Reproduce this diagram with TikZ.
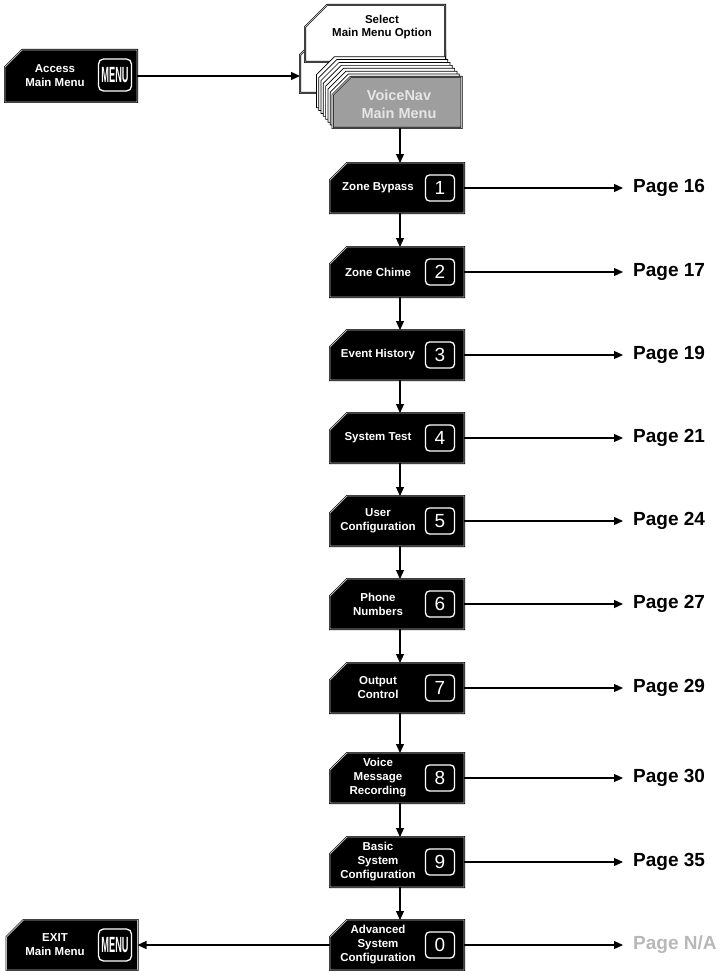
\documentclass[tikz,border=0pt]{standalone}
\usepackage{fontspec}
\setmainfont{Liberation Sans}
\usetikzlibrary{arrows.meta}
\definecolor{frame}{gray}{0.72}
\definecolor{cardgray}{gray}{0.62}
\definecolor{na}{gray}{0.72}
\tikzset{
  shp/.style={draw=black, line width=0.6pt, double=frame, double distance=0.8pt},
  blk/.style={shp, fill=black},
  wht/.style={shp, fill=white},
  card/.style={draw=black, line width=0.7pt, fill=white},
  front/.style={shp, fill=cardgray},
  holder/.style={draw=none, inner sep=0pt, outer sep=0pt},
  btxt/.style={text=white, font=\fontsize{11.5}{14}\selectfont\bfseries, align=center, inner sep=0pt},
  key/.style={draw=white, line width=1.3pt, rounded corners=4pt, minimum width=29pt, minimum height=26pt, inner sep=0pt, text=white, font=\fontsize{19}{19}\selectfont},
  menukey/.style={draw=white, line width=1.3pt, rounded corners=5pt, minimum width=33pt, minimum height=32pt, inner sep=0pt, text=white},
  conn/.style={line width=1.2pt, -{Triangle[length=9pt,width=8pt]}},
  pagelbl/.style={anchor=west, inner sep=0pt, font=\fontsize{19}{19}\selectfont\bfseries},
}
\newcommand\chamf[3]{\path[#1] ([yshift=-#3]#2.north west) -- ([xshift=#3]#2.north west) -- (#2.north east) -- (#2.south east) -- (#2.south west) -- cycle;}
\newcommand\menuword{\scalebox{0.42}[1]{\fontsize{22}{22}\selectfont\bfseries MENU}}
\begin{document}
\begin{tikzpicture}[x=1pt, y=-1pt]
\useasboundingbox (0,0) rectangle (723,971);

% ---- top stack ----
\node[holder, minimum width=145pt, minimum height=42pt] (tab) at (372.5,72) {};
\chamf{wht}{tab}{4pt}
\node[holder, minimum width=140pt, minimum height=57pt] (sel) at (375,33.5) {};
\chamf{wht}{sel}{22pt}
\node[font=\fontsize{11.5}{13}\selectfont\bfseries, align=center, inner sep=0pt] (selt) at (382,27) {Select\\Main Menu Option};
\foreach \k in {7,6,...,1} {
  \node[holder, minimum width=129pt, minimum height=51pt] (c\k) at ({397-2.3*\k},{102.5-2.9*\k}) {};
  \chamf{card}{c\k}{18pt}
}
\node[holder, minimum width=129pt, minimum height=51pt] (vn) at (397,102.5) {};
\chamf{front}{vn}{18pt}
\node[text=white!90!black, font=\fontsize{14.5}{18}\selectfont\bfseries, align=center, inner sep=0pt] (vnt) at (399,104) {VoiceNav\\Main Menu};

% ---- access box ----
\node[holder, minimum width=132pt, minimum height=52pt] (acc) at (71,76) {};
\chamf{blk}{acc}{17pt}
\node[btxt] (acct) at (55,76) {Access\\Main Menu};
\node[menukey] (accm) at (115,75) {\menuword};
\draw[conn] (acc.east) -- (acc.east -| tab.west);

% ---- exit box ----
\node[holder, minimum width=131pt, minimum height=50pt] (ex) at (72,945) {};
\chamf{blk}{ex}{17pt}
\node[btxt] (ext) at (55,945) {EXIT\\Main Menu};
\node[menukey] (exm) at (115,945) {\menuword};

% ---- menu boxes ----
\foreach \i/\y/\t/\d/\p/\c in {
  1/188/{Zone Bypass}/1/{Page 16}/black,
  2/272/{Zone Chime}/2/{Page 17}/black,
  3/355/{Event History}/3/{Page 19}/black,
  4/438/{System Test}/4/{Page 21}/black,
  5/521/{User\\Configuration}/5/{Page 24}/black,
  6/604/{Phone\\Numbers}/6/{Page 27}/black,
  7/688/{Output\\Control}/7/{Page 29}/black,
  8/778/{Voice\\Message\\Recording}/8/{Page 30}/black,
  9/862/{Basic\\System\\Configuration}/9/{Page 35}/black,
  10/945/{Advanced\\System\\Configuration}/0/{Page N/A}/na} {
  \node[holder, minimum width=134pt, minimum height=50pt] (b\i) at (397,\y) {};
  \chamf{blk}{b\i}{17pt}
  \node[btxt] (t\i) at ([xshift=-19pt]b\i.center) {\t};
  \node[key] (k\i) at ([xshift=43pt]b\i.center) {\d};
  \node[pagelbl, text=\c] (p\i) at (633,\y) {\p};
  \draw[conn, shorten >=10pt] (b\i.east) -- (p\i.west);
}

% ---- vertical connectors ----
\draw[conn] ([xshift=3pt]vn.south) -- ([xshift=3pt]b1.north);
\foreach \i/\j in {1/2,2/3,3/4,4/5,5/6,6/7,7/8,8/9,9/10} {
  \draw[conn] ([xshift=3pt]b\i.south) -- ([xshift=3pt]b\j.north);
}
\draw[conn] (b10.west) -- (ex.east);
\end{tikzpicture}
\end{document}
